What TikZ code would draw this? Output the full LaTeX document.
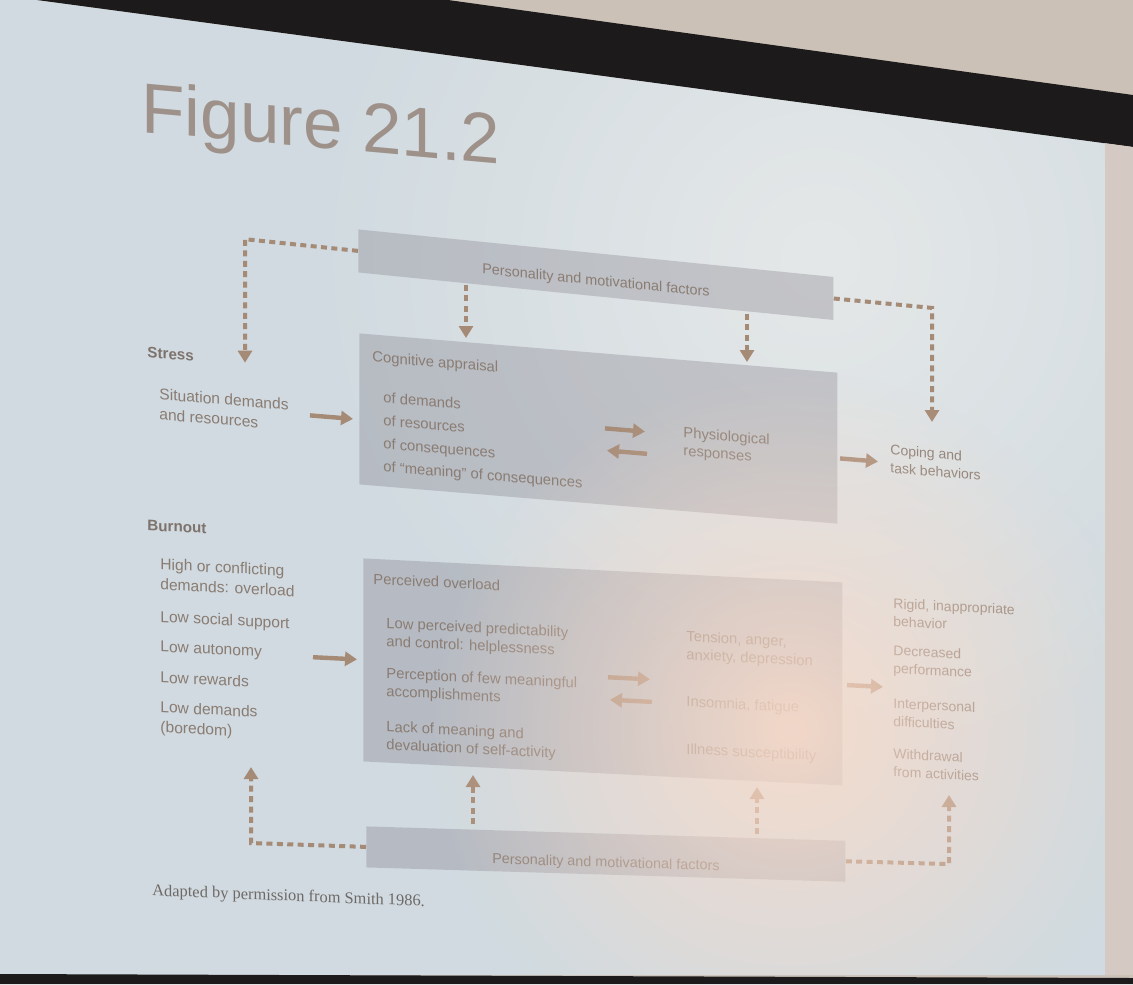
\documentclass[tikz,border=0pt]{standalone}
\usepackage{fontspec}
\setmainfont{Liberation Sans}
\newfontfamily\capserif{Liberation Serif}
\usetikzlibrary{arrows.meta,fadings}
\definecolor{wall}{HTML}{CBC1B7}
\definecolor{wallr}{HTML}{D4CAC3}
\definecolor{bandc}{HTML}{1C1A1A}
\definecolor{slidec}{HTML}{D0DAE0}
\definecolor{boxc}{HTML}{7A7580}
\definecolor{txt}{HTML}{8A7C72}
\definecolor{txtb}{HTML}{7E736C}
\definecolor{arrc}{HTML}{A58A76}
\definecolor{titlec}{HTML}{9E918A}
\definecolor{capc}{HTML}{6E6966}
\definecolor{glare}{HTML}{FCDCC9}
\definecolor{sheen}{HTML}{EEEEEC}
\tikzfading[name=glarefade, inner color=transparent!0, outer color=transparent!100]
\newcommand\myBody{\fontsize{7.4pt}{9pt}\selectfont}
\newcommand\myLeft{\fontsize{7.8pt}{10pt}\selectfont}
\newcommand\myRight{\fontsize{7pt}{9pt}\selectfont}
\newcommand\myHead{\bfseries\fontsize{7.6pt}{9pt}\selectfont}
\newcommand\myBox{\fontsize{7.2pt}{9pt}\selectfont}
\begin{document}
\begin{tikzpicture}[x=0.5pt,y=-0.5pt,
  box/.style={fill=boxc, fill opacity=0.3, text opacity=1, inner sep=0pt, anchor=north west, text=txt, font=\myBox},
  body/.style={text=txt, inner sep=0pt, align=left, anchor=west, font=\myBody},
  lcol/.style={body, font=\myLeft},
  rcol/.style={body, font=\myRight},
  hd/.style={text=txtb, inner sep=0pt, anchor=west, font=\myHead},
  arr/.style={draw=arrc, line width=2.2pt, -{Triangle[length=6pt,width=7pt]}},
  dsh/.style={draw=arrc, line width=2pt, dash pattern=on 3pt off 2.2pt},
  dsharr/.style={dsh, -{Triangle[length=6pt,width=7pt]}}]
\useasboundingbox (0,0) rectangle (1133,984);
% background: wall, screen frame, slide
\fill[wall] (0,0) rectangle (1133,984);
\fill[slidec] (0,0) -- (37,0) -- (1105,143) -- (1105,975) -- (0,975) -- cycle;
\begin{scope}
\clip (0,0) -- (37,0) -- (1105,143) -- (1105,975) -- (0,975) -- cycle;
\fill[sheen, path fading=glarefade, fill opacity=0.7] (820,260) circle (520);
\end{scope}
\fill[bandc] (37,0) -- (448,0) -- (1133,95) -- (1133,147) -- cycle;
\fill[wallr] (1105,143.2) -- (1133,147) -- (1133,975) -- (1105,975) -- cycle;
\fill[bandc] (0,974) -- (1133,978) -- (1133,984) -- (0,984) -- cycle;

% title
\begin{scope}[cm={1,-0.09,0,1,(0pt,6.345pt)},transform shape]
\node[anchor=base west, inner sep=0pt, text=titlec, font=\fontsize{35.5pt}{40pt}\selectfont] (title) at (141,132) {Figure 21.2};
\end{scope}

% top band
\begin{scope}[cm={1,-0.1,0,1,(0pt,17.9pt)},transform shape]
\node[box, minimum width=237.5pt, minimum height=21.5pt, text height=12pt, text depth=1.5pt] (ptop) at (358,229) {Personality and motivational factors};
\coordinate (lc) at (245,250.5);
\coordinate (lt) at (245,374);
\coordinate (rc) at (932,250.5);
\coordinate (rt) at (932,364.6);
\draw[dsharr] (ptop.west) -- (lc) -- (lt);
\draw[dsharr] (ptop.east) -- (rc) -- (rt);
\end{scope}

% stress band
\begin{scope}[cm={1,-0.082,0,1,(0pt,14.719pt)},transform shape]
\node[box, minimum width=239pt, minimum height=75.5pt] (cog) at (359,333) {};
\node[hd] (stress) at (147,369.5) {Stress};
\node[lcol] (situ) at (159,420.4) {Situation demands\\and resources};
\node[body] (cogt) at (372,357) {Cognitive appraisal};
\node[body, font=\fontsize{7.4pt}{11.5pt}\selectfont] (cogl) at (383,431.5) {of demands\\of resources\\of consequences\\of ``meaning'' of consequences};
\node[body] (phys) at (683,416.4) {Physiological\\responses};
\node[rcol] (cope) at (890,415.2) {Coping and\\task behaviors};
\coordinate (s1a) at (310,419.4); \coordinate (s1b) at (353,419.4);
\coordinate (s2a) at (605,408.2); \coordinate (s2b) at (645,408.2);
\coordinate (s3a) at (647,430.2); \coordinate (s3b) at (607,430.2);
\coordinate (s4a) at (840,419); \coordinate (s4b) at (878,419);
\draw[arr] (s1a) -- (s1b);
\draw[arr] (s2a) -- (s2b);
\draw[arr] (s3a) -- (s3b);
\draw[arr] (s4a) -- (s4b);
\end{scope}

% burnout band
\begin{scope}[cm={1,-0.05,0,1,(0pt,9.075pt)},transform shape]
\node[box, minimum width=239.5pt, minimum height=101.5pt] (perc) at (363,558) {};
\node[hd] (burn) at (147,536.3) {Burnout};
\node[lcol] (l1) at (160,584.3) {High or conflicting\\demands: overload};
\node[lcol] (l2) at (160,628.2) {Low social support};
\node[lcol] (l3) at (160,658.2) {Low autonomy};
\node[lcol] (l4) at (160,687.2) {Low rewards};
\node[lcol] (l5) at (160,728.5) {Low demands\\(boredom)};
\node[body] (perct) at (373,578.3) {Perceived overload};
\node[body] (p1) at (386,632.3) {Low perceived predictability\\and control: helplessness};
\node[body] (p2) at (386,682.3) {Perception of few meaningful\\accomplishments};
\node[body] (p3) at (386,735.6) {Lack of meaning and\\devaluation of self-activity};
\node[body] (q1) at (686,630.6) {Tension, anger,\\anxiety, depression};
\node[body] (q2) at (686,686.7) {Insomnia, fatigue};
\node[body] (q3) at (686,734) {Illness susceptibility};
\node[rcol] (r1) at (893,586) {Rigid, inappropriate\\behavior};
\node[rcol] (r2) at (893,634.3) {Decreased\\performance};
\node[rcol] (r3) at (893,685.8) {Interpersonal\\difficulties};
\node[rcol] (r4) at (893,736.2) {Withdrawal\\from activities};
\coordinate (t1a) at (313,659.7); \coordinate (t1b) at (357,659.7);
\coordinate (t2a) at (608,665); \coordinate (t2b) at (650,665);
\coordinate (t3a) at (652,687.4); \coordinate (t3b) at (610,687.4);
\coordinate (t4a) at (847,660.9); \coordinate (t4b) at (883,660.9);
\draw[arr] (t1a) -- (t1b);
\draw[arr] (t2a) -- (t2b);
\draw[arr] (t3a) -- (t3b);
\draw[arr] (t4a) -- (t4b);
\end{scope}

% bottom band
\begin{scope}[cm={1,-0.03,0,1,(0pt,5.49pt)},transform shape]
\node[box, minimum width=239.5pt, minimum height=20.5pt, text height=14.5pt, text depth=1.5pt] (pbot) at (366,826) {Personality and motivational factors};
\coordinate (blc) at (251,846.5);
\coordinate (blt) at (251,770.5);
\coordinate (brc) at (949,846.5);
\coordinate (brt) at (949,777.5);
\draw[dsharr] (pbot.west) -- (blc) -- (blt);
\draw[dsharr] (pbot.east) -- (brc) -- (brt);
\end{scope}

% vertical dashed connectors between bands
\coordinate (u1) at (466,285); \coordinate (u1e) at (466,338);
\coordinate (u2) at (747,314); \coordinate (u2e) at (747,362);
\coordinate (b1) at (473,824); \coordinate (b1e) at (473,775);
\coordinate (b2) at (757,834); \coordinate (b2e) at (757,787);
\draw[dsharr] (u1) -- (u1e);
\draw[dsharr] (u2) -- (u2e);
\draw[dsharr] (b1) -- (b1e);
\draw[dsharr] (b2) -- (b2e);

% caption
\begin{scope}[cm={1,-0.04,0,1,(0pt,3.04pt)},transform shape]
\node[anchor=west, inner sep=0pt, text=capc, font=\capserif\fontsize{8.2pt}{10pt}\selectfont] (cap) at (152,891.5) {Adapted by permission from Smith 1986.};
\end{scope}

% projector glare
\begin{scope}
\clip (0,0) -- (37,0) -- (1105,143) -- (1105,975) -- (0,975) -- cycle;
\fill[glare, path fading=glarefade, fill opacity=0.85] (790,730) circle (360);
\end{scope}
\end{tikzpicture}
\end{document}
